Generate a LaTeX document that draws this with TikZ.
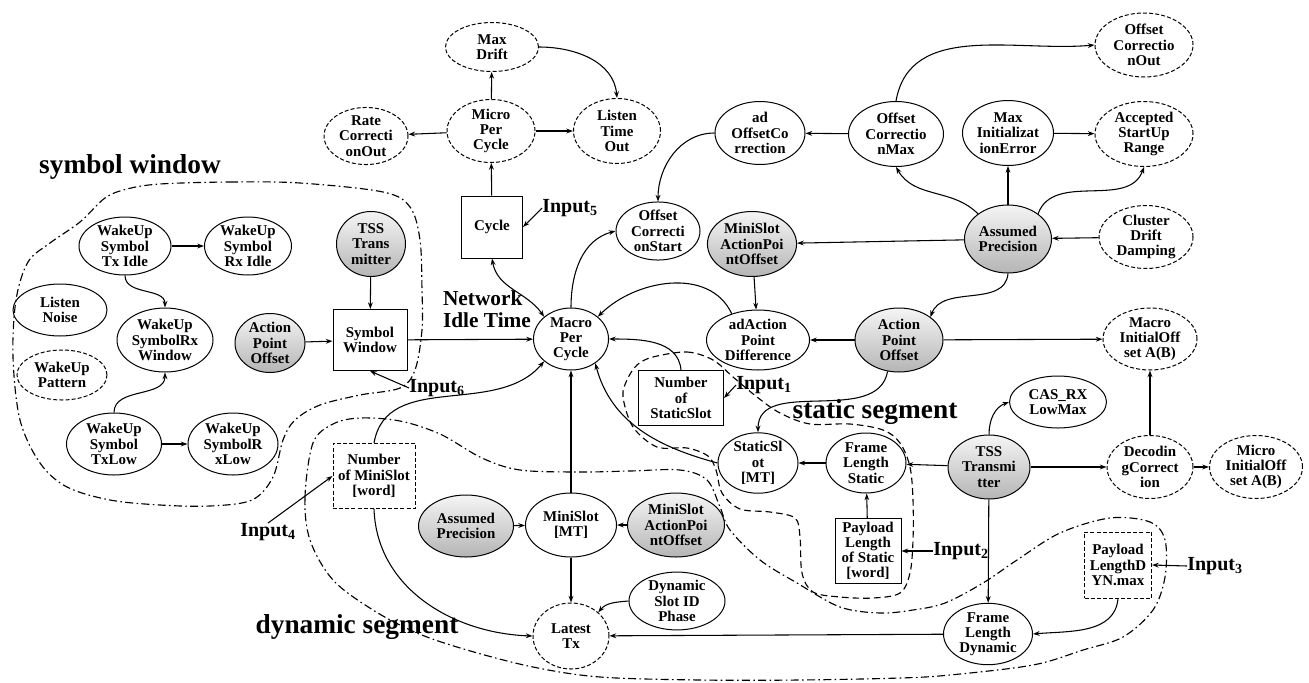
\documentclass[tikz,border=0pt]{standalone}
\usepackage{fontspec}
\setmainfont{Liberation Serif}
\usetikzlibrary{shapes.geometric,arrows.meta}
\newcommand\myNodeFont{\fontsize{11.2}{11.4}\selectfont\bfseries}
\newcommand\myInFont{\fontsize{15}{15}\selectfont\bfseries}
\newcommand\myGrpFont{\fontsize{20.5}{20.5}\selectfont\bfseries}
\tikzset{
 nd/.style={ellipse, draw, line width=0.75pt, inner sep=0pt, align=center, font=\myNodeFont},
 el/.style={nd},
 del/.style={nd, dash pattern=on 3pt off 1.6pt},
 gel/.style={nd, top color=gray!8, bottom color=gray!58},
 bx/.style={rectangle, draw, line width=0.75pt, inner sep=1pt, align=center, font=\myNodeFont},
 dbx/.style={bx, dash pattern=on 3pt off 1.6pt},
 sz/.style 2 args={minimum width=#1*0.75pt, minimum height=#2*0.75pt},
 lbl/.style={inner sep=0pt, font=\myInFont},
 grp/.style={inner sep=0pt, font=\myGrpFont},
 arr/.style={line width=0.8pt, -{Stealth[length=5pt,width=3.6pt]}},
 arrb/.style={line width=0.8pt, {Stealth[length=5pt,width=3.6pt]}-{Stealth[length=5pt,width=3.6pt]}},
 dashdotline/.style={line width=0.85pt, dash pattern=on 6pt off 2.5pt on 1.2pt off 2.5pt},
 segdash/.style={line width=0.85pt, dash pattern=on 5pt off 3pt},
}
\begin{document}
\begin{tikzpicture}[x=0.75pt,y=-0.75pt]
\useasboundingbox (0,0) rectangle (1309,682);

% ---------- group outlines ----------
\draw[dashdotline] plot[smooth cycle, tension=0.55] coordinates {
 (160,184) (230,182) (300,183) (383,192) (410,207) (420,240) (422,290) (422,330)
 (415,370) (400,388) (360,395) (320,405) (295,420) (283,440) (273,477) (252,500)
 (210,506) (160,505) (110,500) (67,487) (40,463) (20,420) (13,357) (16,300)
 (28,262) (50,243) (80,222) (105,198) (127,189)};

\draw[dashdotline] plot[smooth cycle, tension=0.55] coordinates {
 (313,443) (305,497) (310,540) (333,580) (373,610) (417,633) (467,650) (533,667)
 (600,677) (700,680) (800,680) (900,678) (950,675) (1033,665) (1083,650) (1123,637)
 (1153,610) (1165,577) (1165,540) (1150,522) (1110,518) (1060,533) (1017,560)
 (983,583) (945,603) (913,610) (880,613) (840,607) (797,583) (760,560) (730,530)
 (720,507) (707,480) (680,470) (630,471) (580,472) (520,470) (482,458) (440,434)
 (400,421) (360,418) (333,424)};

\draw[segdash] plot[smooth cycle, tension=0.55] coordinates {
 (653,357) (687,352) (713,360) (733,377) (757,397) (780,413) (810,424) (850,424)
 (883,430) (900,443) (910,467) (913,500) (913,540) (910,573) (900,593) (873,598)
 (840,597) (813,592) (802,573) (800,537) (795,518) (770,512) (740,509) (722,493)
 (716,470) (708,456) (687,448) (657,447) (633,427) (623,397) (627,380) (637,365)};

% ---------- group labels ----------
\node[grp] (lsw) at (130,167) {symbol window};
\node[grp] (lss) at (875,412) {static segment};
\node[grp] (lds) at (357,627) {dynamic segment};
\node[lbl, align=left, font=\fontsize{16}{16.5}\selectfont\bfseries] (nit) at (487,309) {Network\\Idle Time};

% ---------- top nodes ----------
\node[del, sz={93}{49}] (maxdrift) at (492,47) {Max\\Drift};
\node[del, sz={84}{56}] (rateco) at (366,136) {Rate\\Correcti\\onOut};
\node[del, sz={88}{63}] (micro) at (491,131) {Micro\\Per\\Cycle};
\node[del, sz={87}{65}] (listen) at (617,131) {Listen\\Time\\Out};
\node[bx, sz={61}{62}] (cycle) at (492,227) {Cycle};
\node[lbl] (in5) at (570,208) {Input\textsubscript{5}};
\node[el, sz={90}{63}] (adoc) at (760,133) {ad\\OffsetCo\\rrection};
\node[el, sz={95}{65}] (ocmax) at (896,134) {Offset\\Correctio\\nMax};
\node[el, sz={84}{58}] (ocstart) at (658,231) {Offset\\Correcti\\onStart};
\node[gel, sz={86}{65}] (msapo1) at (752,244) {MiniSlot\\ActionPoi\\ntOffset};
\node[el, sz={91}{65}] (maxinit) at (1008,133) {Max\\Initializat\\ionError};
\node[del, sz={98}{64}] (ocout) at (1144,45) {Offset\\Correctio\\nOut};
\node[del, sz={98}{65}] (asr) at (1144,134) {Accepted\\StartUp\\Range};
\node[gel, sz={87}{68}] (ap1) at (1008,239) {Assumed\\Precision};
\node[del, sz={94}{63}] (cdd) at (1146,237) {Cluster\\Drift\\Damping};

% ---------- middle nodes ----------
\node[gel, sz={88}{64}] (apo) at (899,340) {Action\\Point\\Offset};
\node[el, sz={103}{60}] (adapd) at (758,340) {adAction\\Point\\Difference};
\node[el, sz={75}{62}] (macro) at (571,339) {Macro\\Per\\Cycle};
\node[del, sz={94}{62}] (macroinit) at (1150,339) {Macro\\InitialOff\\set A(B)};
\node[bx, sz={85}{55}] (nss) at (681,398) {Number\\of\\StaticSlot};
\node[lbl] (in1) at (764,385) {Input\textsubscript{1}};
\node[el, sz={80}{60}] (ss) at (758,463) {StaticSl\\ot\\{[MT]}};
\node[el, sz={80}{60}] (fls) at (866,463) {Frame\\Length\\Static};
\node[gel, sz={82}{64}] (tss2) at (989,467) {TSS\\Transmi\\tter};
\node[el, sz={97}{52}] (cas) at (1058,402) {CAS\_RX\\LowMax};
\node[del, sz={86}{63}] (dec) at (1150,467) {Decodin\\gCorrect\\ion};
\node[del, sz={93}{63}] (microinit) at (1256,467) {Micro\\InitialOff\\set A(B)};
\node[bx, sz={66}{65}] (pls) at (868,551) {Payload\\Length\\of Static\\{[word]}};
\node[lbl] (in2) at (961,551) {Input\textsubscript{2}};

% ---------- bottom nodes ----------
\node[gel, sz={97}{64}] (msapo2) at (676,525) {MiniSlot\\ActionPoi\\ntOffset};
\node[el, sz={91}{64}] (ms) at (571,525) {MiniSlot\\{[MT]}};
\node[gel, sz={95}{62}] (ap2) at (466,526) {Assumed\\Precision};
\node[dbx, sz={82}{65}] (nms) at (374,476) {Number\\of MiniSlot\\{[word]}};
\node[lbl] (in4) at (268,532) {Input\textsubscript{4}};
\node[el, sz={96}{57}] (dsip) at (677,601) {Dynamic\\Slot ID\\Phase};
\node[del, sz={76}{66}] (latest) at (571,636) {Latest\\Tx};
\node[el, sz={89}{58}] (fld) at (988,634) {Frame\\Length\\Dynamic};
\node[dbx, sz={67}{66}] (pld) at (1118,565) {Payload\\LengthD\\YN.max};
\node[lbl] (in3) at (1215,566) {Input\textsubscript{3}};

% ---------- left nodes ----------
\node[el, sz={92}{58}] (wtxi) at (125,246) {WakeUp\\Symbol\\Tx Idle};
\node[el, sz={87}{58}] (wrxi) at (248,246) {WakeUp\\Symbol\\Rx Idle};
\node[el, sz={94}{52}] (ln) at (60,310) {Listen\\Noise};
\node[el, sz={96}{64}] (wrxw) at (165,340) {WakeUp\\SymbolRx\\Window};
\node[del, sz={90}{50}] (wp) at (62,375) {WakeUp\\Pattern};
\node[gel, sz={70}{59}] (apo2) at (270,343) {Action\\Point\\Offset};
\node[el, sz={95}{62}] (wtxl) at (114,444) {WakeUp\\Symbol\\TxLow};
\node[el, sz={90}{62}] (wrxl) at (233,444) {WakeUp\\SymbolR\\xLow};
\node[gel, sz={69}{65}] (tss1) at (371,244) {TSS\\Trans\\mitter};
\node[bx, sz={74}{61}] (sw) at (370,340) {Symbol\\Window};
\node[lbl] (in6) at (437,388) {Input\textsubscript{6}};

% ---------- connectors ----------
\draw[arr] (micro) -- (maxdrift);
\draw[arr] (micro) -- (rateco);
\draw[arr] (micro) -- (listen);
\draw[arr] (maxdrift.east) to[out=0,in=95] (listen.north);
\draw[arr] (cycle) -- (micro);
\draw[arr] (in5.west) -- (cycle.east);
\draw[arrb] (cycle.south) to[out=-80,in=125] (macro.north west);
\draw[arr] (macro.north) to[out=90,in=195] (ocstart.west);
\draw[arr] (adoc.west) to[out=180,in=90] (ocstart.north);
\draw[arr] (ocmax) -- (adoc);
\draw[arr] (ocmax.north) to[out=80,in=185] (ocout.west);
\draw[arr] (ap1.140) to[out=135,in=-60] (ocmax.south);
\draw[arr] (ap1) -- (maxinit);
\draw[arr] (maxinit) -- (asr);
\draw[arr] (ap1.40) to[out=70,in=-110] (asr.south);
\draw[arr] (cdd) -- (ap1);
\draw[arr] (ap1) -- (msapo1);
\draw[arr] (ap1.south) to[out=-95,in=70] (apo.north east);
\draw[arr] (msapo1) -- (adapd);
\draw[arr] (apo) -- (adapd);
\draw[arr] (adapd.135) to[out=115,in=45] (macro.north east);
\draw[arr] (apo) -- (macroinit);
\draw[arr] (apo.250) to[out=-100,in=90] (ss.north);
\draw[arr] (nss.north) to[out=95,in=0] (macro.east);
\draw[arr] (in1.west) -- (nss.east);
\draw[arr] (ss.west) to[out=165,in=-75] (macro.-45);
\draw[arr] (fls) -- (ss);
\draw[arr] (tss2) -- (fls);
\draw[arr] (pls) -- (fls);
\draw[arr] (in2.west) -- (pls.east);
\draw[arr] (tss2.north) to[out=90,in=200] (cas.west);
\draw[arr] (tss2) -- (dec);
\draw[arr] (dec) -- (macroinit);
\draw[arr] (dec) -- (microinit);
\draw[arr] (tss2) -- (fld);
\draw[arr] (pld.south) to[out=-95,in=5] (fld.east);
\draw[arr] (in3.west) -- (pld.east);
\draw[arr] (fld) -- (latest);
\draw[arr] (dsip.west) to[out=185,in=50] (latest.north east);
\draw[arr] (ms) -- (latest);
\draw[arr] (ms) -- (macro);
\draw[arr] (msapo2) -- (ms);
\draw[arr] (ap2) -- (ms);
\draw[arr] (nms.south) to[out=-88,in=178] (latest.west);
\draw[arr] (nms.north) to[out=80,in=-130] (macro.south west);
\draw[arr] (in4.north) -- (nms.west);
\draw[arr] (sw) -- (macro);
\draw[arr] (apo2) -- (sw);
\draw[arr] (tss1) -- (sw);
\draw[arr] (in6.west) -- (sw.south);
\draw[arr] (wtxi) -- (wrxi);
\draw[arr] (wtxi.south) to[out=-90,in=90] (wrxw.north);
\draw[arr] (wtxl.north) to[out=90,in=-90] (wrxw.south);
\draw[arr] (wtxl) -- (wrxl);
\end{tikzpicture}
\end{document}
